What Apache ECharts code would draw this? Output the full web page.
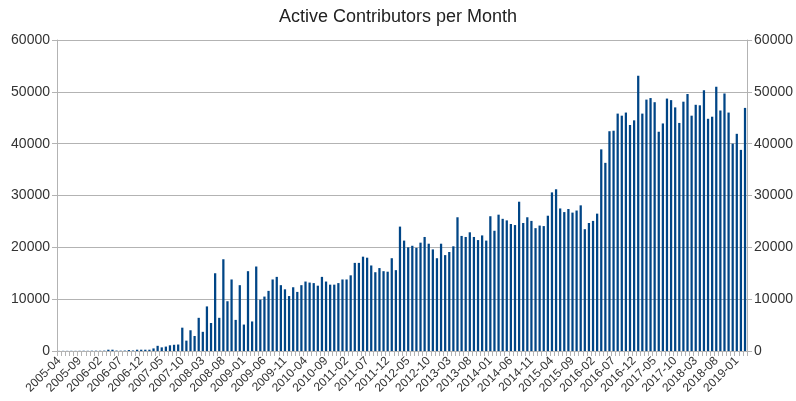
<!DOCTYPE html>
<html>
<head>
<meta charset="utf-8">
<script src="https://cdn.jsdelivr.net/npm/echarts@6/dist/echarts.min.js"></script>
<style>
html,body{margin:0;padding:0;background:#fff;}
#chart{width:796px;height:401px;}
</style>
</head>
<body>
<div id="chart"></div>
<script>
var titleText = 'Active Contributors per Month';

var months = [
  '2005-04','2005-05','2005-06','2005-07','2005-08','2005-09','2005-10','2005-11','2005-12',
  '2006-01','2006-02','2006-03','2006-04','2006-05','2006-06','2006-07','2006-08','2006-09','2006-10','2006-11','2006-12',
  '2007-01','2007-02','2007-03','2007-04','2007-05','2007-06','2007-07','2007-08','2007-09','2007-10','2007-11','2007-12',
  '2008-01','2008-02','2008-03','2008-04','2008-05','2008-06','2008-07','2008-08','2008-09','2008-10','2008-11','2008-12',
  '2009-01','2009-02','2009-03','2009-04','2009-05','2009-06','2009-07','2009-08','2009-09','2009-10','2009-11','2009-12',
  '2010-01','2010-02','2010-03','2010-04','2010-05','2010-06','2010-07','2010-08','2010-09','2010-10','2010-11','2010-12',
  '2011-01','2011-02','2011-03','2011-04','2011-05','2011-06','2011-07','2011-08','2011-09','2011-10','2011-11','2011-12',
  '2012-01','2012-02','2012-03','2012-04','2012-05','2012-06','2012-07','2012-08','2012-09','2012-10','2012-11','2012-12',
  '2013-01','2013-02','2013-03','2013-04','2013-05','2013-06','2013-07','2013-08','2013-09','2013-10','2013-11','2013-12',
  '2014-01','2014-02','2014-03','2014-04','2014-05','2014-06','2014-07','2014-08','2014-09','2014-10','2014-11','2014-12',
  '2015-01','2015-02','2015-03','2015-04','2015-05','2015-06','2015-07','2015-08','2015-09','2015-10','2015-11','2015-12',
  '2016-01','2016-02','2016-03','2016-04','2016-05','2016-06','2016-07','2016-08','2016-09','2016-10','2016-11','2016-12',
  '2017-01','2017-02','2017-03','2017-04','2017-05','2017-06','2017-07','2017-08','2017-09','2017-10','2017-11','2017-12',
  '2018-01','2018-02','2018-03','2018-04','2018-05','2018-06','2018-07','2018-08','2018-09','2018-10','2018-11','2018-12',
  '2019-01','2019-02','2019-03'
];

var contributors = [
  20, 30, 30, 40, 30, 40, 50, 40, 60,
  60, 50, 70, 250, 250, 80, 60, 80, 180, 100, 250, 250,
  250, 250, 500, 1000, 700, 850, 1100, 1200, 1250, 4500, 2000, 4000,
  2900, 6400, 3700, 8600, 5400, 15000, 6400, 17700, 9600, 13800, 6000, 12700,
  5100, 15400, 5700, 16300, 9900, 10500, 11600, 13800, 14300, 12700, 11900, 10600,
  12300, 11400, 12700, 13400, 13200, 13100, 12600, 14300, 13400, 12800, 12800, 13100,
  13800, 13800, 14600, 17000, 17000, 18200, 18000, 16500, 15200, 16000, 15400, 15300,
  17900, 15600, 24000, 21300, 20000, 20300, 19900, 20900, 22000, 20700, 19600, 17900,
  20700, 18500, 19100, 20200, 25800, 22200, 22000, 22900, 22000, 21400, 22300, 21300,
  26000, 23200, 26300, 25500, 25200, 24500, 24300, 28800, 24700, 25800, 25100, 23700,
  24200, 24100, 26100, 30600, 31200, 27500, 26800, 27400, 26700, 27100, 28100, 23500,
  24700, 25100, 26500, 38900, 36300, 42400, 42500, 45800, 45400, 46000, 43600, 44500,
  53100, 45800, 48500, 48800, 48000, 42300, 43900, 48700, 48400, 47000, 44000, 48100,
  49600, 45400, 47500, 47400, 50300, 44800, 45200, 51000, 46400, 49700, 46000, 40000,
  41900, 38800, 46900
];

var yMin = 0, yMax = 60000, yStep = 10000;

var chart = echarts.init(document.getElementById('chart'), null, {renderer: 'canvas'});
var axisGray = '#b3b3b3';
var textColor = '#333333';
var font = 'Liberation Sans';
function plain(v) { return String(v); }

chart.setOption({
  animation: false,
  backgroundColor: '#ffffff',
  title: {
    text: titleText,
    left: 'center',
    top: 3,
    textStyle: {fontFamily: font, fontSize: 18, fontWeight: 'normal', color: '#222'}
  },
  grid: {left: 57, right: 48, top: 40, bottom: 50},
  xAxis: {
    type: 'category',
    data: months,
    boundaryGap: true,
    axisLine: {show: true, lineStyle: {color: axisGray, width: 1}},
    axisTick: {show: true, interval: 0, length: 5, lineStyle: {color: axisGray}},
    axisLabel: {
      interval: 4, rotate: 45, fontFamily: font, fontSize: 12, color: textColor, margin: 8
    },
    splitLine: {show: false}
  },
  yAxis: [
    {
      type: 'value', min: yMin, max: yMax, interval: yStep, position: 'left',
      axisLine: {show: true, lineStyle: {color: axisGray}},
      axisTick: {show: true, length: 5, lineStyle: {color: axisGray}},
      axisLabel: {fontFamily: font, fontSize: 14, color: textColor, margin: 7, formatter: plain},
      splitLine: {show: true, lineStyle: {color: axisGray, width: 1}}
    },
    {
      type: 'value', min: yMin, max: yMax, interval: yStep, position: 'right',
      axisLine: {show: true, lineStyle: {color: axisGray}},
      axisTick: {show: true, length: 5, lineStyle: {color: axisGray}},
      axisLabel: {fontFamily: font, fontSize: 14, color: textColor, margin: 7, formatter: plain},
      splitLine: {show: false}
    }
  ],
  series: [{
    type: 'bar',
    data: contributors,
    yAxisIndex: 0,
    barWidth: '55%',
    itemStyle: {color: '#004586'}
  }]
});
</script>
</body>
</html>
